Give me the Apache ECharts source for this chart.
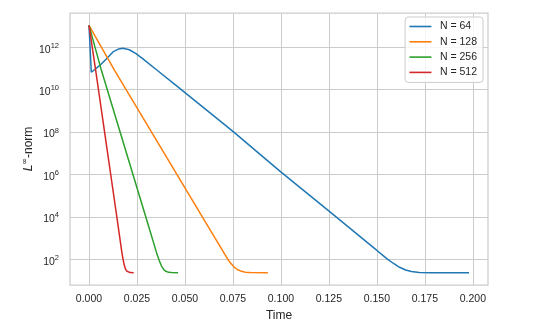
<!DOCTYPE html>
<html><head><meta charset="utf-8">
<style>html,body{margin:0;padding:0;background:#fff}#c{width:548px;height:332px}</style>
<script src="https://cdn.jsdelivr.net/npm/echarts@6.0.0/dist/echarts.min.js"></script>
</head><body><div id="c"></div>
<script>
// ---- data ----
const seriesNames = ['N = 64', 'N = 128', 'N = 256', 'N = 512'];

const t64 = [0, 0.0012, 0.003, 0.0056, 0.009, 0.0125, 0.0155, 0.0177, 0.021, 0.0245, 0.0281, 0.035, 0.0455, 0.075, 0.0993, 0.1254, 0.1497, 0.1525, 0.1555, 0.1585, 0.1618, 0.165, 0.168, 0.172, 0.178, 0.198];
const v64 = [1.07e13, 6.6e10, 8.9e10, 1.38e11, 2.8e11, 6.0e11, 8.3e11, 8.9e11, 7.6e11, 5.0e11, 2.8e11, 8.9e10, 1.55e10, 1.07e8, 1.48e6, 1.78e4, 275, 170, 102, 65, 42, 31, 26.3, 24, 23.4, 23.4];

const t128 = [0, 0.0134, 0.0603, 0.0715, 0.0735, 0.0755, 0.0775, 0.0795, 0.0815, 0.084, 0.0932];
const v128 = [1.07e13, 7.9e10, 6.5e3, 132, 70, 44, 32, 27, 24.5, 23.5, 23.4];

const t256 = [0, 0.0065, 0.0302, 0.0355, 0.0367, 0.0378, 0.0389, 0.04, 0.0415, 0.043, 0.0464];
const v256 = [1.07e13, 7.9e10, 6.5e3, 166, 82, 48, 33, 27, 24.2, 23.5, 23.4];

const t512 = [0, 0.0035, 0.0148, 0.0172, 0.0178, 0.0184, 0.019, 0.0196, 0.0205, 0.0214, 0.0233];
const v512 = [1.07e13, 7.9e10, 6.5e3, 190, 95, 52, 35, 28, 24.3, 23.5, 23.4];

const xTicks = [0, 0.025, 0.05, 0.075, 0.1, 0.125, 0.15, 0.175, 0.2];
const yTicks = [1e2, 1e4, 1e6, 1e8, 1e10, 1e12];

// ---- chart ----
const colors = ['#1f77b4', '#ff7f0e', '#2ca02c', '#d62728'];
const FONT = '"Liberation Sans", Arial, sans-serif';
const TXT = '#262626';
function pairs(t, v) { return t.map((x, i) => [x, v[i]]); }
const allData = [pairs(t64, v64), pairs(t128, v128), pairs(t256, v256), pairs(t512, v512)];

const chart = echarts.init(document.getElementById('c'), null, { renderer: 'canvas' });
chart.setOption({
  animation: false,
  backgroundColor: '#ffffff',
  grid: { left: 70, right: 60, top: 13, bottom: 47, show: true, borderColor: '#cccccc', borderWidth: 1.25, backgroundColor: 'transparent' },
  xAxis: {
    type: 'value', min: -0.0099, max: 0.2079,
    axisLine: { show: false },
    axisTick: { show: false, customValues: xTicks },
    axisLabel: { customValues: xTicks, formatter: v => v.toFixed(3), color: TXT, fontSize: 10.5, fontFamily: FONT, margin: 9 },
    splitLine: { show: true, lineStyle: { color: '#cccccc', width: 1 } },
    name: 'Time', nameLocation: 'middle', nameGap: 25, nameMoveOverlap: false,
    nameTextStyle: { color: TXT, fontSize: 12, fontFamily: FONT }
  },
  yAxis: {
    type: 'log', logBase: 10, min: 6.12, max: 4.1e13,
    axisLine: { show: false },
    axisTick: { show: false, customValues: yTicks },
    axisLabel: {
      customValues: yTicks, margin: 11, padding: [5, 0, 0, 0],
      formatter: v => '{b|10}{s|' + Math.round(Math.log10(v)) + '}',
      rich: {
        b: { fontSize: 10.5, fontFamily: FONT, color: TXT, lineHeight: 16 },
        s: { fontSize: 7.5, fontFamily: FONT, color: TXT, lineHeight: 8, verticalAlign: 'top' }
      }
    },
    splitLine: { show: true, lineStyle: { color: '#cccccc', width: 1 } },
    name: '{i|L}{s|\u221e}{n|-norm}', nameLocation: 'middle', nameRotate: 90, nameGap: 33, nameMoveOverlap: false,
    nameTextStyle: {
      rich: {
        i: { fontSize: 12, fontFamily: '"DejaVu Sans", sans-serif', fontStyle: 'italic', color: TXT, lineHeight: 16 },
        s: { fontSize: 8, fontFamily: '"DejaVu Sans", sans-serif', color: TXT, lineHeight: 9, verticalAlign: 'top' },
        n: { fontSize: 12, fontFamily: FONT, color: TXT, lineHeight: 16 }
      }
    }
  },
  legend: {
    orient: 'vertical', right: 65, top: 17, icon: 'rect', itemWidth: 22, itemHeight: 1.6, itemGap: 3.3,
    padding: [3.5, 6, 4, 4.3], backgroundColor: 'rgba(255,255,255,0.8)', borderColor: '#cccccc', borderWidth: 1, borderRadius: 3,
    textStyle: { fontSize: 10.5, fontFamily: FONT, color: TXT, lineHeight: 12, padding: [0, 0, 0, 3.5] },
    data: seriesNames
  },
  series: seriesNames.map((n, i) => ({
    name: n, type: 'line', data: allData[i], showSymbol: false, symbol: 'none',
    color: colors[i], lineStyle: { width: 1.5, color: colors[i] }, emphasis: { disabled: true }
  }))
});
</script></body></html>
